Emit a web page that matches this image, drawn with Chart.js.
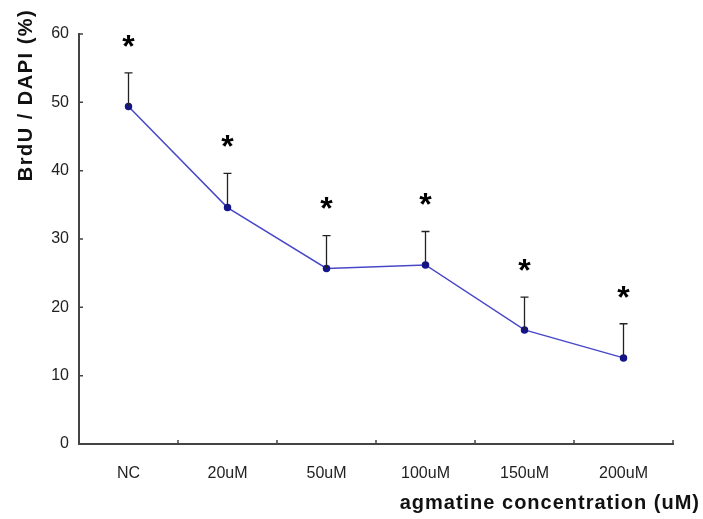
<!DOCTYPE html>
<html>
<head>
<meta charset="utf-8">
<script src="https://cdn.jsdelivr.net/npm/chart.js@4.4.1/dist/chart.umd.min.js"></script>
<style>
  html, body { margin: 0; padding: 0; background: #fff; }
  #wrap { width: 703px; height: 519px; }
</style>
</head>
<body>
<div id="wrap"><canvas id="chart" width="703" height="519"></canvas></div>
<script>
const categories = ['NC', '20uM', '50uM', '100uM', '150uM', '200uM'];
const brduRatio = [49.4, 34.6, 25.7, 26.2, 16.7, 12.6];
const errorUp = [4.9, 5.0, 4.8, 4.9, 4.8, 5.0];
const yTicks = [0, 10, 20, 30, 40, 50, 60];
const marks = ['*', '*', '*', '*', '*', '*'];

const FONT = "'Liberation Sans', Arial, sans-serif";

// error bars, asterisks, inward ticks and axis titles
const extras = {
    id: 'extras',
    afterDatasetsDraw(chart) {
        const ctx = chart.ctx;
        const x = chart.scales.x, y = chart.scales.y;
        ctx.save();
        ctx.strokeStyle = '#222';
        ctx.lineWidth = 1.3;
        brduRatio.forEach((v, i) => {
            const px = x.getPixelForValue(i);
            const top = y.getPixelForValue(v + errorUp[i]);
            ctx.beginPath();
            ctx.moveTo(px, y.getPixelForValue(v));
            ctx.lineTo(px, top);
            ctx.moveTo(px - 4, top);
            ctx.lineTo(px + 4, top);
            ctx.stroke();

            ctx.fillStyle = '#000';
            ctx.font = 'bold 32px ' + FONT;
            ctx.textAlign = 'center';
            ctx.textBaseline = 'middle';
            ctx.fillText(marks[i], px, top - 25);
        });
        ctx.restore();
    },
    afterDraw(chart) {
        const ctx = chart.ctx;
        const y = chart.scales.y;
        const area = chart.chartArea;
        ctx.save();
        ctx.strokeStyle = '#444';
        ctx.lineWidth = 1.5;
        ctx.beginPath();
        yTicks.forEach(t => {
            const py = y.getPixelForValue(t);
            ctx.moveTo(area.left, py);
            ctx.lineTo(area.left + 4, py);
        });
        const step = (area.right - area.left) / categories.length;
        for (let i = 1; i <= categories.length; i++) {
            const px = area.left + step * i;
            ctx.moveTo(px, area.bottom);
            ctx.lineTo(px, area.bottom - 4);
        }
        ctx.stroke();

        ctx.fillStyle = '#111';
        ctx.font = 'bold 20px ' + FONT;
        ctx.letterSpacing = '1.5px';
        ctx.textAlign = 'center';
        ctx.textBaseline = 'middle';
        ctx.translate(26, 95);
        ctx.rotate(-Math.PI / 2);
        ctx.fillText('BrdU / DAPI (%)', 0, 0);
        ctx.setTransform(1, 0, 0, 1, 0, 0);

        ctx.font = 'bold 20px ' + FONT;
        ctx.letterSpacing = '1px';
        ctx.textAlign = 'right';
        ctx.fillText('agmatine concentration (uM)', 700, 503);
        ctx.restore();
    }
};

new Chart(document.getElementById('chart'), {
    type: 'line',
    data: {
        labels: categories,
        datasets: [{
            data: brduRatio,
            borderColor: '#4848c8',
            borderWidth: 1.5,
            pointBackgroundColor: '#14148c',
            pointBorderColor: '#14148c',
            pointRadius: 3,
            tension: 0
        }]
    },
    options: {
        responsive: false,
        animation: false,
        layout: { padding: { top: 34, right: 30, left: 0, bottom: 0 } },
        plugins: { legend: { display: false }, tooltip: { enabled: false } },
        scales: {
            x: {
                offset: true,
                grid: { display: false },
                border: { display: true, color: '#444', width: 2 },
                ticks: { color: '#222', font: { family: FONT, size: 16 }, padding: 12 },
                afterFit(scale) { scale.height = 75; }
            },
            y: {
                min: 0,
                max: 60,
                afterBuildTicks(scale) { scale.ticks = yTicks.map(v => ({ value: v })); },
                grid: { display: false },
                border: { display: true, color: '#444', width: 2 },
                ticks: { color: '#222', font: { family: FONT, size: 16 }, padding: 2 },
                afterFit(scale) { scale.width = 79; }
            }
        }
    },
    plugins: [extras]
});
</script>
</body>
</html>
